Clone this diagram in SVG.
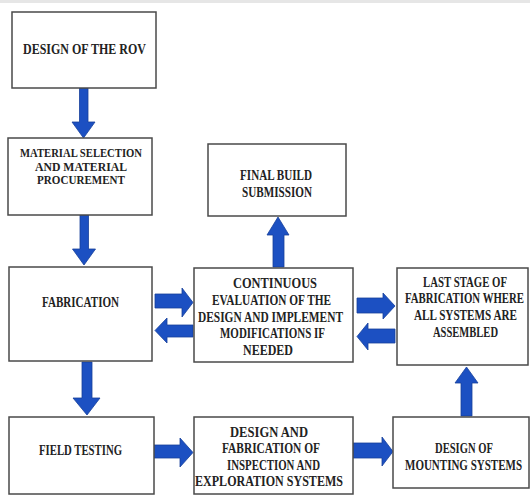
<svg xmlns="http://www.w3.org/2000/svg" width="530" height="495" viewBox="0 0 530 495">
<style>
.box{fill:#fff;stroke:#4a4a4a;stroke-width:1.5}
.t{font-family:"Liberation Serif","Times New Roman",serif;font-weight:bold;font-size:15px;fill:#222;text-anchor:middle}
.s{font-size:12.5px}
.arr{fill:#1c50c2;stroke:#17409a;stroke-width:0.8;stroke-linejoin:miter}
</style>
<rect x="0" y="0" width="530" height="495" fill="#fff"/>
<rect x="0" y="0" width="530" height="3" fill="#e6e6e6"/>
<g id="connectors">
<path class="arr" d="M79.5,88 H88 V122 H95 L83.5,138 L72,122 H79.5 Z"/>
<path class="arr" d="M80,215 H88.5 V249 H95.5 L84,265 L72.5,249 H80 Z"/>
<path class="arr" d="M82,362 H92 V398 H100 L87,415 L73,398 H82 Z"/>
<path class="arr" d="M273,267 H284 V235 H289 L278,217 L267,235 H273 Z"/>
<path class="arr" d="M461,416 H472 V383 H478 L466.5,367 L455,383 H461 Z"/>
<path class="arr" d="M155,294 H182 V288 L193,302.5 L182,317 V308 H155 Z"/>
<path class="arr" d="M193,325 H167 V318 L155,330.5 L167,343 V337 H193 Z"/>
<path class="arr" d="M357,298 H383 V293 L395,306 L383,319 V313 H357 Z"/>
<path class="arr" d="M395,329 H368 V323 L357,336.5 L368,350 V343 H395 Z"/>
<path class="arr" d="M153,445 H180 V438 L193,452.5 L180,467 V458 H153 Z"/>
<path class="arr" d="M353,443 H382 V437 L393,451.5 L382,466 V458 H353 Z"/>
</g>
<g id="design-rov">
<rect class="box" x="12" y="12" width="144" height="76"/>
<text class="t" transform="translate(84.5,54) scale(0.75,1)" textLength="164" lengthAdjust="spacingAndGlyphs">DESIGN OF THE ROV</text>
</g>
<g id="material">
<rect class="box" x="8" y="138" width="144" height="77"/>
<text class="t s" transform="translate(81,157) scale(0.75,1)" textLength="162.7" lengthAdjust="spacingAndGlyphs">MATERIAL SELECTION</text>
<text class="t s" transform="translate(81,170.5) scale(0.75,1)" textLength="122.7" lengthAdjust="spacingAndGlyphs">AND MATERIAL</text>
<text class="t s" transform="translate(81,184) scale(0.75,1)" textLength="117.3" lengthAdjust="spacingAndGlyphs">PROCUREMENT</text>
</g>
<g id="final-build">
<rect class="box" x="208" y="144" width="138" height="72"/>
<text class="t" transform="translate(276,180) scale(0.75,1)" textLength="96" lengthAdjust="spacingAndGlyphs">FINAL BUILD</text>
<text class="t" transform="translate(277,197) scale(0.75,1)" textLength="93.3" lengthAdjust="spacingAndGlyphs">SUBMISSION</text>
</g>
<g id="fabrication">
<rect class="box" x="9" y="267" width="143" height="94"/>
<text class="t" transform="translate(80.5,307) scale(0.75,1)" textLength="102.7" lengthAdjust="spacingAndGlyphs">FABRICATION</text>
</g>
<g id="continuous">
<rect class="box" x="194" y="268" width="159" height="94"/>
<text class="t" transform="translate(275,288) scale(0.75,1)" textLength="112" lengthAdjust="spacingAndGlyphs">CONTINUOUS</text>
<text class="t" transform="translate(271.5,305) scale(0.75,1)" textLength="158.7" lengthAdjust="spacingAndGlyphs">EVALUATION OF THE</text>
<text class="t" transform="translate(270.5,322) scale(0.75,1)" textLength="193.3" lengthAdjust="spacingAndGlyphs">DESIGN AND IMPLEMENT</text>
<text class="t" transform="translate(272.5,338) scale(0.75,1)" textLength="140" lengthAdjust="spacingAndGlyphs">MODIFICATIONS IF</text>
<text class="t" transform="translate(268,355) scale(0.75,1)" textLength="66.7" lengthAdjust="spacingAndGlyphs">NEEDED</text>
</g>
<g id="last-stage">
<rect class="box" x="397" y="268" width="131" height="97"/>
<text class="t" transform="translate(465,287) scale(0.75,1)" textLength="112" lengthAdjust="spacingAndGlyphs">LAST STAGE OF</text>
<text class="t" transform="translate(464.5,303) scale(0.75,1)" textLength="158.7" lengthAdjust="spacingAndGlyphs">FABRICATION WHERE</text>
<text class="t" transform="translate(465.5,320) scale(0.75,1)" textLength="137.3" lengthAdjust="spacingAndGlyphs">ALL SYSTEMS ARE</text>
<text class="t" transform="translate(465.5,337) scale(0.75,1)" textLength="86.7" lengthAdjust="spacingAndGlyphs">ASSEMBLED</text>
</g>
<g id="field-testing">
<rect class="box" x="9" y="417" width="145" height="77"/>
<text class="t" transform="translate(80.5,455) scale(0.75,1)" textLength="110.7" lengthAdjust="spacingAndGlyphs">FIELD TESTING</text>
</g>
<g id="design-fabrication">
<rect class="box" x="194" y="417" width="159" height="77"/>
<text class="t" transform="translate(269,437) scale(0.75,1)" textLength="104" lengthAdjust="spacingAndGlyphs">DESIGN AND</text>
<text class="t" transform="translate(271,453) scale(0.75,1)" textLength="130.7" lengthAdjust="spacingAndGlyphs">FABRICATION OF</text>
<text class="t" transform="translate(273.5,470) scale(0.75,1)" textLength="124" lengthAdjust="spacingAndGlyphs">INSPECTION AND</text>
<text class="t" transform="translate(269,486) scale(0.75,1)" textLength="197.3" lengthAdjust="spacingAndGlyphs">EXPLORATION  SYSTEMS</text>
</g>
<g id="mounting">
<rect class="box" x="393" y="417" width="136" height="71"/>
<text class="t" transform="translate(464,453) scale(0.75,1)" textLength="77.3" lengthAdjust="spacingAndGlyphs">DESIGN OF</text>
<text class="t" transform="translate(463.5,470) scale(0.75,1)" textLength="156" lengthAdjust="spacingAndGlyphs">MOUNTING SYSTEMS</text>
</g>
</svg>
